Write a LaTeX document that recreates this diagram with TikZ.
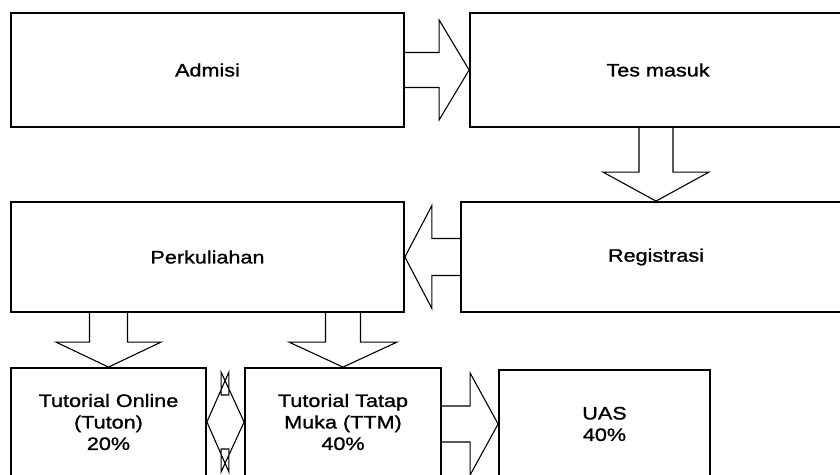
\documentclass[tikz,border=0pt]{standalone}
\usepackage{fontspec}
\setmainfont{Liberation Sans}[FakeStretch=1.2, FakeBold=1.2]
\usetikzlibrary{calc}

\begin{document}
\begin{tikzpicture}[
    x=1pt, y=1pt,
    box/.style={draw, line width=1.8pt, inner sep=0pt, align=center, font=\fontsize{18}{21.5}\selectfont},
    blockarrow/.style={draw, line width=1.1pt, line join=miter}
  ]
  \useasboundingbox (0,0) rectangle (840,474);
  \clip (0,0) rectangle (840,474);

  \node[box, minimum width=393pt, minimum height=114pt] (adm) at (207.5,404) {Admisi};
  \node[box, minimum width=376pt, minimum height=114pt] (tes) at (658,404) {Tes masuk};
  \node[box, minimum width=390pt, minimum height=110pt] (reg) at (656,217) {Registrasi};
  \node[box, minimum width=393pt, minimum height=110pt] (kul) at (207.5,217) {Perkuliahan};
  \node[box, minimum width=195pt, minimum height=108pt] (tuton) at (108.5,52) {Tutorial Online\\(Tuton)\\20\%};
  \node[box, minimum width=196pt, minimum height=108pt] (ttm) at (343,52) {Tutorial Tatap\\Muka (TTM)\\40\%};
  \node[box, minimum width=211pt, minimum height=108pt] (uas) at (604.5,50) {UAS\\40\%};

  % admisi -> tes masuk
  \draw[blockarrow] ($(adm.east)+(0,17.5)$) -- ($(tes.west)+(-30,17.5)$) -- ($(tes.west)+(-30,50)$)
    -- (tes.west) -- ($(tes.west)+(-30,-50)$) -- ($(tes.west)+(-30,-17.5)$) -- ($(adm.east)+(0,-17.5)$);
  % tes masuk -> registrasi
  \draw[blockarrow] ($(tes.south -| reg.north)+(-17,0)$) -- ($(reg.north)+(-17,29)$) -- ($(reg.north)+(-53,29)$)
    -- (reg.north) -- ($(reg.north)+(53,29)$) -- ($(reg.north)+(17,29)$) -- ($(tes.south -| reg.north)+(17,0)$);
  % registrasi -> perkuliahan
  \draw[blockarrow] ($(reg.west)+(0,18.5)$) -- ($(kul.east)+(27,18.5)$) -- ($(kul.east)+(27,51.5)$)
    -- (kul.east) -- ($(kul.east)+(27,-51.5)$) -- ($(kul.east)+(27,-18.5)$) -- ($(reg.west)+(0,-18.5)$);
  % perkuliahan -> tuton, ttm
  \draw[blockarrow] ($(kul.south -| tuton.north)+(-19,0)$) -- ($(tuton.north)+(-19,25)$) -- ($(tuton.north)+(-52.5,25)$)
    -- (tuton.north) -- ($(tuton.north)+(52.5,25)$) -- ($(tuton.north)+(19,25)$) -- ($(kul.south -| tuton.north)+(19,0)$);
  \draw[blockarrow] ($(kul.south -| ttm.north)+(-17.5,0)$) -- ($(ttm.north)+(-17.5,25)$) -- ($(ttm.north)+(-54,25)$)
    -- (ttm.north) -- ($(ttm.north)+(54,25)$) -- ($(ttm.north)+(17.5,25)$) -- ($(kul.south -| ttm.north)+(17.5,0)$);
  % tuton <-> ttm
  \draw[blockarrow] (tuton.east) -- ($(tuton.east)+(22,50)$) -- ($(tuton.east)+(22,27)$) -- ($(ttm.west)+(-23,27)$)
    -- ($(ttm.west)+(-23,50)$) -- (ttm.west) -- ($(ttm.west)+(-23,-50)$) -- ($(ttm.west)+(-23,-27)$)
    -- ($(tuton.east)+(22,-27)$) -- ($(tuton.east)+(22,-50)$) -- cycle;
  % ttm -> uas
  \draw[blockarrow] ($(ttm.east |- uas.west)+(0,18)$) -- ($(uas.west)+(-28,18)$) -- ($(uas.west)+(-28,51)$)
    -- (uas.west) -- ($(uas.west)+(-28,-51)$) -- ($(uas.west)+(-28,-18)$) -- ($(ttm.east |- uas.west)+(0,-18)$);
\end{tikzpicture}
\end{document}
